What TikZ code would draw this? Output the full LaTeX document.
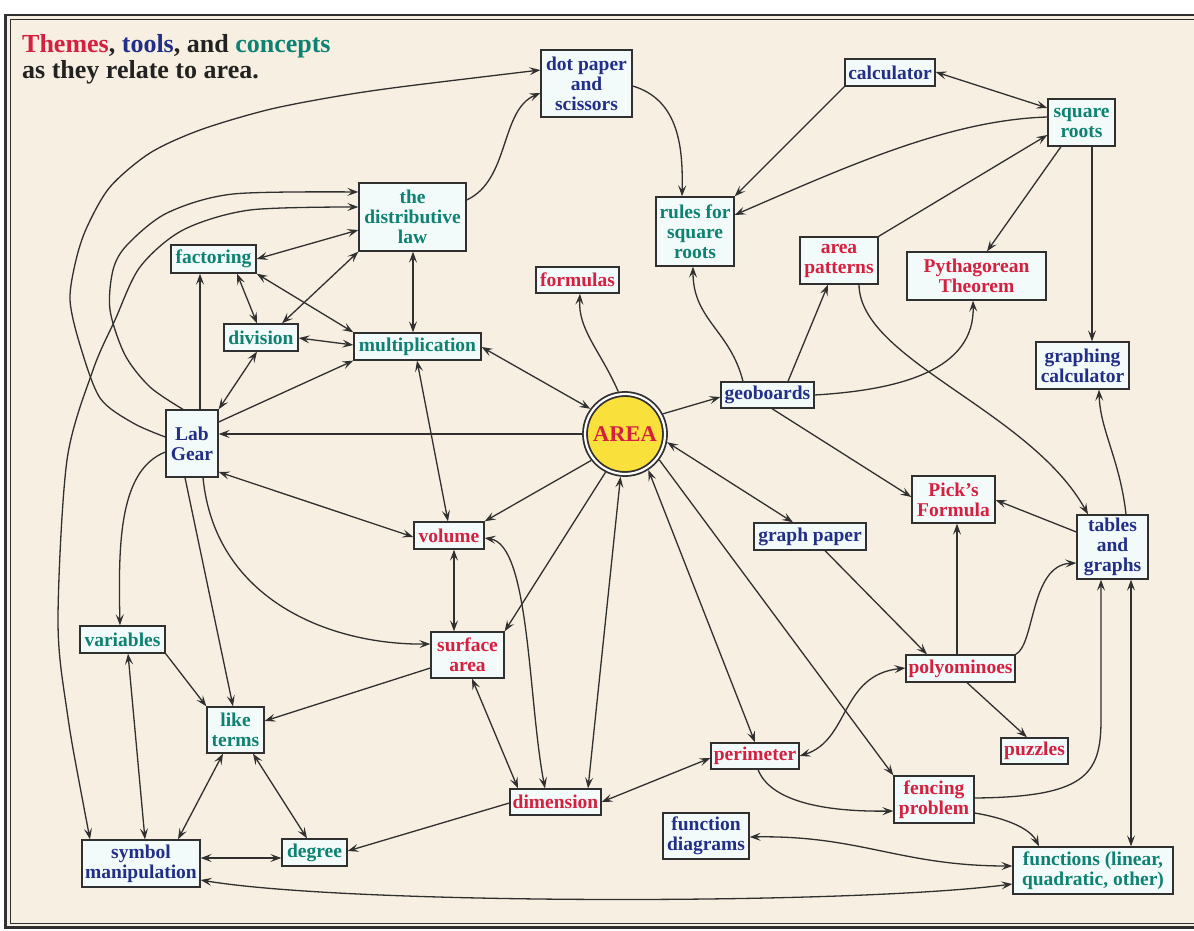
\documentclass[tikz,border=0pt]{standalone}
\usepackage{fontspec}
\setmainfont{Liberation Serif}
\usetikzlibrary{arrows.meta,calc}
\definecolor{cream}{HTML}{F7EFE1}
\definecolor{boxfill}{HTML}{F3FAFA}
\definecolor{linecol}{HTML}{303030}
\definecolor{themecol}{HTML}{D6203F}
\definecolor{toolcol}{HTML}{222F88}
\definecolor{conceptcol}{HTML}{0D8272}
\definecolor{ink}{HTML}{222222}
\definecolor{areayellow}{HTML}{FAE03A}
\begin{document}
\begin{tikzpicture}[x=1pt,y=-1pt,
  >={Stealth[length=11pt,width=8pt,inset=4.5pt]},
  box/.style={draw=linecol, line width=1.3pt, fill=boxfill, inner sep=1pt, align=center,
    font=\fontsize{19.5}{20}\selectfont\bfseries},
  theme/.style={box, text=themecol},
  tool/.style={box, text=toolcol},
  concept/.style={box, text=conceptcol},
  sz/.style 2 args={minimum width=#1pt, minimum height=#2pt},
  titlefont/.style={font=\fontsize{26}{26}\selectfont\bfseries, text=ink, inner sep=0pt, anchor=base west}
]
\useasboundingbox (0,0) rectangle (1194,931);
\fill[white] (0,0) rectangle (1194,931);
\fill[cream] (5.5,15) rectangle (1200,927.5);
\draw[linecol, line width=2.5pt] (1200,15) -- (5.5,15) -- (5.5,927.5) -- (1200,927.5);
\draw[linecol, line width=0.9pt] (1200,19) -- (10,19) -- (10,923.5) -- (1200,923.5);

% title
\node[titlefont] (t1) at (22,53) {\textcolor{themecol}{Themes}, \textcolor{toolcol}{tools}, and \textcolor{conceptcol}{concepts}};
\node[titlefont] (t2) at (22,79) {as they relate to area.};

% nodes
\node[tool, sz={91}{67}] (dot) at (586.5,83.5) {dot paper\\and\\scissors};
\node[concept, sz={78}{69}] (rules) at (695,231.5) {rules for\\square\\roots};
\node[theme, sz={83}{26}] (formulas) at (577.5,280) {formulas};
\node[tool, sz={90}{27}] (calc) at (890,72.5) {calculator};
\node[concept, sz={67}{47}] (sqrt) at (1081.5,122.5) {square\\roots};
\node[theme, sz={78}{47}] (areapat) at (839,260.5) {area\\patterns};
\node[theme, sz={139}{48}] (pyth) at (976.5,276) {Pythagorean\\Theorem};
\node[tool, sz={93}{47}] (gcalc) at (1082.5,365.5) {graphing\\calculator};
\node[theme, sz={83}{47}] (pick) at (953.5,499.5) {Pick’s\\Formula};
\node[tool, sz={71}{64}] (tables) at (1112.5,547) {tables\\and\\graphs};
\node[tool, sz={112}{27}] (gpaper) at (810,536.5) {graph paper};
\node[tool, sz={93}{26}] (geo) at (767.5,395) {geoboards};
\node[concept, sz={127}{27}] (mult) at (417.5,346.5) {multiplication};
\node[concept, sz={107}{68}] (dist) at (412.5,217) {the\\distributive\\law};
\node[concept, sz={85}{28}] (fact) at (213.5,259) {factoring};
\node[concept, sz={74}{27}] (div) at (261,337.5) {division};
\node[tool, sz={52}{67}] (lab) at (192,443.5) {Lab\\Gear};
\node[theme, sz={70}{27}] (vol) at (449,535.5) {volume};
\node[theme, sz={73}{46}] (surf) at (467.5,655) {surface\\area};
\node[concept, sz={85}{27}] (vars) at (122.5,639.5) {variables};
\node[concept, sz={57}{46}] (like) at (235.5,730) {like\\terms};
\node[tool, sz={118}{47}] (sym) at (141,863.5) {symbol\\manipulation};
\node[concept, sz={65}{27}] (deg) at (314.5,852.5) {degree};
\node[theme, sz={91}{26}] (dim) at (555.5,802) {dimension};
\node[theme, sz={88}{26}] (per) at (755,756) {perimeter};
\node[tool, sz={86}{46}] (fdiag) at (706,836) {function\\diagrams};
\node[theme, sz={109}{27}] (poly) at (960.5,668.5) {polyominoes};
\node[theme, sz={67}{26}] (puz) at (1034.5,751) {puzzles};
\node[theme, sz={80}{47}] (fence) at (934,799.5) {fencing\\problem};
\node[concept, sz={160}{47}] (func) at (1093,870.5) {functions (linear,\\quadratic, other)};
\node[circle, draw=linecol, line width=1.8pt, double=white, double distance=2.2pt,
  fill=areayellow, minimum size=80pt, inner sep=0pt, outer sep=2.9pt, text=themecol,
  font=\fontsize{22.5}{22.5}\selectfont\bfseries] (area) at (625,434) {AREA};

% connectors
\begin{scope}[color=linecol, line width=1.3pt]
\draw[->] plot[smooth] coordinates {(lab.west |- 0,437) (133,423) (100,398) (80,345) (70,300) (76,260) (87,227) (110,187) (150,153) (200,130) (267,110) (333,97) (400,87) (dot.west |- 0,70)};
\draw[->] plot[smooth] coordinates {(lab.north -| 183,0) (150,387) (125,355) (110,310) (113,270) (127,245) (167,213) (233,194) (dist.west |- 0,192)};
\draw[<->] plot[smooth] coordinates {(sym.north -| 90,0) (67,711) (58,620) (67,460) (93,370) (115,320) (140,267) (183,230) (250,210) (dist.west |- 0,207)};
\draw[<->] (fact.east |- 0,259) -- (dist.west |- 0,230);
\draw[->] (lab.north -| 200,0) -- (fact.south -| 200,0);
\draw[<->] (fact.south -| 237,0) -- (div.north -| 257,0);
\draw[<->] (fact.south east) -- (mult.north west);
\draw[<->] (div.north -| 282,0) -- (dist.south west);
\draw[<->] (div.east |- 0,338) -- (mult.west |- 0,345);
\draw[<->] (dist.south -| 413,0) -- (mult.north -| 413,0);
\draw[<->] (lab.north east) -- (div.south -| 257,0);
\draw[->] (lab.east |- 0,422) -- (mult.south west);
\draw[->] (area.west) -- (lab.east |- area.west);
\draw[<->] (mult.east |- 0,347) -- (area.144);
\draw[<->] (mult.south -| 417,0) -- (vol.north -| 448,0);
\draw[<->] (lab.east |- 0,472) -- (vol.west |- 0,537);
\draw[->] (area.218) -- (vol.north east);
\draw[->] (area.243) -- (surf.north east);
\draw[<->] (vol.south -| 454,0) -- (surf.north -| 454,0);
\draw[<->] (vol.east |- 0,538) .. controls (530,545) and (528,700) .. (dim.north -| 545,0);
\draw[<->] (dim.north -| 588,0) -- (area.264);
\draw[<->] (surf.south -| 472,0) -- (dim.north -| 518,0);
\draw[->] (lab.south -| 203,0) .. controls (215,600) and (330,645) .. (surf.west |- 0,644);
\draw[->] (lab.south -| 185,0) -- (like.north -| 233,0);
\draw[->] (lab.west |- 0,452) .. controls (120,470) and (118,540) .. (vars.north -| 120,0);
\draw[->] (surf.west |- 0,668) -- (like.east |- 0,721);
\draw[->] (vars.south east) -- (like.north west);
\draw[<->] (vars.south -| 128,0) -- (sym.north -| 145,0);
\draw[<->] (like.south -| 223,0) -- (sym.north -| 178,0);
\draw[<->] (like.south -| 253,0) -- (deg.north -| 307,0);
\draw[<->] (sym.east |- 0,858) -- (deg.west |- 0,858);
\draw[->] (dim.west |- 0,803) -- (deg.east |- 0,851);
\draw[<->] (sym.east |- 0,880) .. controls (350,905) and (850,905) .. (func.west |- 0,884);
\draw[<->] (fdiag.east |- 0,837) .. controls (860,835) and (900,866) .. (func.west |- 0,866);
\draw[->] (fence.east |- 0,813) .. controls (1005,818) and (1030,828) .. (func.north -| 1039,0);
\draw[->] (fence.east |- 0,798) .. controls (1085,797) and (1101,775) .. (1101,720) -- (tables.south -| 1101,0);
\draw[<->] (tables.south -| 1131,0) -- (func.north -| 1131,0);
\draw[->] (per.south -| 758,0) .. controls (770,800) and (820,812) .. (fence.west |- 0,811);
\draw[->] (area.323) -- (fence.north west);
\draw[<->] (area.303) -- (per.north -| 755,0);
\draw[<->] (area.349) -- (gpaper.north -| 793,0);
\draw[->] (gpaper.south -| 825,0) -- (poly.north -| 927,0);
\draw[<->] (per.east |- 0,756) .. controls (850,740) and (840,675) .. (poly.west |- 0,668);
\draw[->] (poly.south -| 967,0) -- (puz.north -| 1027,0);
\draw[->] (poly.north -| 957,0) -- (pick.south -| 957,0);
\draw[->] (poly.north east) .. controls (1035,645) and (1030,565) .. (tables.west |- 0,563);
\draw[->] (tables.west |- 0,532) -- (pick.east |- 0,500);
\draw[->] (tables.north -| 1126,0) .. controls (1120,460) and (1100,430) .. (gcalc.south -| 1099,0);
\draw[->] (sqrt.south -| 1092,0) -- (gcalc.north -| 1092,0);
\draw[->] (sqrt.south -| 1061,0) -- (pyth.north -| 987,0);
\draw[<->] (calc.east |- 0,72) -- (sqrt.west |- 0,108);
\draw[->] (calc.south west) -- (rules.north east);
\draw[->] (sqrt.west |- 0,117) .. controls (950,120) and (850,165) .. (rules.east |- 0,215);
\draw[->] (areapat.north east) -- (sqrt.west |- 0,135);
\draw[->] (areapat.south -| 859,0) .. controls (860,360) and (1030,410) .. (tables.north -| 1088,0);
\draw[->] (geo.north -| 788,0) -- (areapat.south -| 828,0);
\draw[->] (geo.north -| 743,0) .. controls (730,330) and (693,320) .. (rules.south -| 693,0);
\draw[->] (geo.east |- 0,395) .. controls (900,390) and (975,370) .. (pyth.south -| 973,0);
\draw[->] (geo.south -| 772,0) -- (pick.west |- 0,497);
\draw[->] (area.28) -- (geo.west |- 0,397);
\draw[->] (area.99) .. controls (600,350) and (578,330) .. (formulas.south -| 580,0);
\draw[->] (dist.east |- 0,200) .. controls (510,180) and (500,110) .. (dot.west |- 0,93);
\draw[->] (dot.east |- 0,86) .. controls (680,100) and (683,150) .. (rules.north -| 682,0);
\draw[<->] (dim.east |- 0,802) -- (per.west |- 0,758);
\end{scope}
\end{tikzpicture}
\end{document}
